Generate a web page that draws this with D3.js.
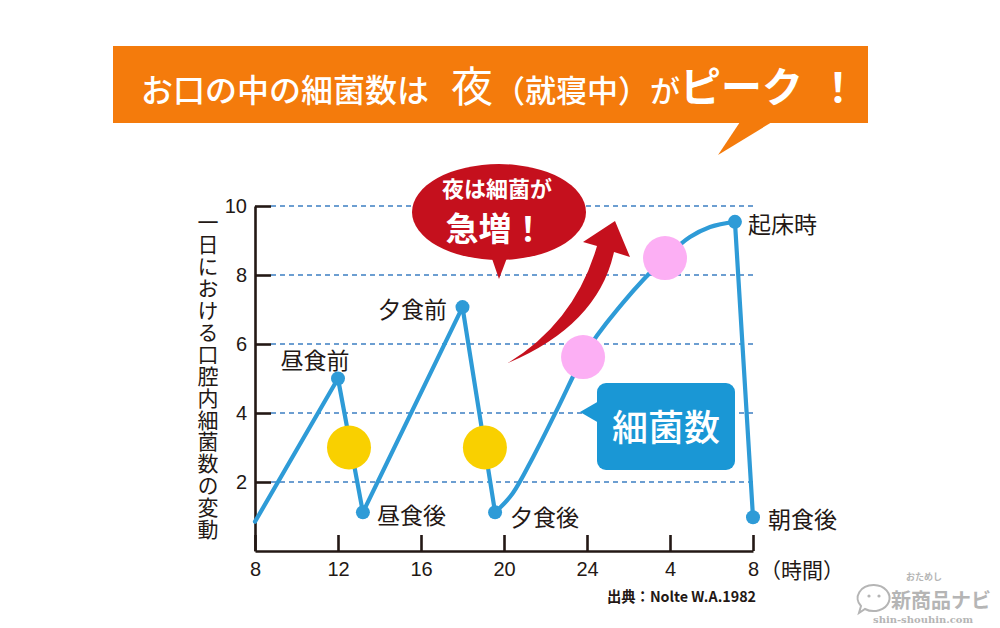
<!DOCTYPE html>
<html><head><meta charset="utf-8">
<script src="https://cdn.jsdelivr.net/npm/d3@7"></script>
<style>
html,body{margin:0;padding:0;background:#fff;}
svg{display:block;}
</style></head>
<body>
<script>
// ---- data ----
const yTicks = [2, 4, 6, 8, 10];
const xTicks = [8, 12, 16, 20, 24, 28, 32];
const xTickLabels = ["8", "12", "16", "20", "24", "4", "8"];

const dayHours = [8, 12, 13.2, 18, 19.57];
const dayValues = [0.85, 5.0, 1.12, 7.07, 1.12];
const nightHours = [19.57, 20.43, 21.4, 22.55, 23.81, 25.73, 27.76, 28.96, 29.93, 31.13];
const nightValues = [1.12, 1.68, 2.72, 4.09, 5.62, 7.19, 8.49, 9.10, 9.39, 9.54];
const morningHours = [31.13, 32];
const morningValues = [9.54, 0.98];

const dotHours = [12, 13.2, 18, 19.57, 31.13, 32];
const dotValues = [5.0, 1.12, 7.07, 1.12, 9.54, 0.98];
const dotLabels = ["昼食前", "昼食後", "夕食前", "夕食後", "起床時", "朝食後"];

const mealHours = [12.53, 19.08];
const mealValues = [3.0, 3.0];
const sleepHours = [23.81, 27.76];
const sleepValues = [5.62, 8.49];

const titleParts = ["お口の中の細菌数は", "夜", "（就寝中）", "が", "ピーク", "！"];
const yTitle = "一日における口腔内細菌数の変動";
const unitLabel = "（時間）";
const sourceText = "出典：Nolte W.A.1982";
const bubbleLines = ["夜は細菌が", "急増！"];
const boxLabel = "細菌数";

// ---- setup ----
const W = 1000, H = 628;
const JP = "'Noto Sans CJK JP','Noto Sans',sans-serif";
const LAT = "'Liberation Sans',Arial,sans-serif";
const ink = "#231815";
const blue = "#2e9bd7";

const svg = d3.select("body").append("svg").attr("width", W).attr("height", H);
svg.append("rect").attr("width", W).attr("height", H).attr("fill", "#fff");

const x = d3.scaleLinear().domain([8, 32]).range([255, 753]);
const y = d3.scaleLinear().domain([0, 10]).range([551, 206]);

// ---- banner ----
const orange = "#f47b0c";
svg.append("rect").attr("x", 113).attr("y", 46).attr("width", 755).attr("height", 77).attr("fill", orange);
svg.append("path").attr("d", "M740,122 L772,122 L718,155 Z").attr("fill", orange);

const tStyle = [
  {x: 141, size: 32, w: 500},
  {x: 451, size: 42, w: 400},
  {x: 494, size: 31, w: 500},
  {x: 650, size: 30, w: 500},
  {x: 680, size: 41, w: 700},
  {x: 818, size: 40, w: 700}
];
const title = svg.append("g").attr("fill", "#fff").attr("font-family", JP);
titleParts.forEach((t, i) => {
  title.append("text").attr("x", tStyle[i].x).attr("y", 102).attr("font-size", tStyle[i].size)
    .attr("font-weight", tStyle[i].w).text(t);
});

// ---- grid ----
svg.append("g").selectAll("line").data(yTicks).join("line")
  .attr("x1", x(8) + 16).attr("x2", x(32))
  .attr("y1", d => y(d)).attr("y2", d => y(d))
  .attr("stroke", "#3d7fc2").attr("stroke-width", 1.4).attr("stroke-dasharray", "5,4");

// ---- axes ----
const gy = svg.append("g").attr("transform", `translate(${x(8)},0)`)
  .call(d3.axisLeft(y).tickValues(yTicks).tickSizeInner(-16).tickSizeOuter(0).tickPadding(8));
const gx = svg.append("g").attr("transform", `translate(0,${y(0)})`)
  .call(d3.axisBottom(x).tickValues(xTicks).tickFormat((d, i) => xTickLabels[i])
    .tickSizeInner(-16).tickSizeOuter(0).tickPadding(11));
[gy, gx].forEach(g => {
  g.select(".domain").attr("stroke", ink).attr("stroke-width", 2.6);
  g.selectAll(".tick line").attr("stroke", ink).attr("stroke-width", 2.6);
  g.selectAll(".tick text").attr("fill", ink).attr("font-size", 20).attr("font-family", LAT);
});

svg.append("text").attr("x", 760).attr("y", 578).attr("font-family", JP).attr("font-size", 21)
  .attr("fill", ink).text(unitLabel);

svg.append("text").attr("x", 208).attr("y", 212).attr("font-family", JP).attr("font-size", 21)
  .attr("fill", ink).attr("letter-spacing", 0.9)
  .style("writing-mode", "vertical-rl").text(yTitle);

svg.append("text").attr("x", 607).attr("y", 602).attr("font-family", JP).attr("font-size", 14.3)
  .attr("font-weight", 700).attr("fill", ink).text(sourceText);

// ---- annotations: red bubble + arrow ----
const red = "#c5101d";
svg.append("ellipse").attr("cx", 499).attr("cy", 212).attr("rx", 87).attr("ry", 48).attr("fill", red);
svg.append("path").attr("d", "M489,250 L510,250 L499,279 Z").attr("fill", red);
const bt = svg.append("text").attr("text-anchor", "middle").attr("font-family", JP)
  .attr("font-weight", 700).attr("fill", "#fff");
bt.append("tspan").attr("x", 497).attr("y", 197).attr("font-size", 22).text(bubbleLines[0]);
bt.append("tspan").attr("x", 495).attr("y", 241).attr("font-size", 33).text(bubbleLines[1]);

svg.append("path")
  .attr("d", "M508,363 Q575,322 597,246 L583,242 L615,221 L630,257 L614,252 Q598,325 508,363 Z")
  .attr("fill", red);

// ---- blue label box ----
const boxBlue = "#1a97d5";
svg.append("rect").attr("x", 597).attr("y", 383).attr("width", 138).attr("height", 87).attr("rx", 9)
  .attr("fill", boxBlue);
svg.append("path").attr("d", "M599,401 L580,412 L599,423 Z").attr("fill", boxBlue);
svg.append("text").attr("x", 666).attr("y", 441).attr("text-anchor", "middle").attr("font-family", JP)
  .attr("font-size", 36).attr("font-weight", 500).attr("fill", "#fff").text(boxLabel);

// ---- series ----
const line = d3.line().x(d => x(d[0])).y(d => y(d[1]));
const curve = d3.line().x(d => x(d[0])).y(d => y(d[1])).curve(d3.curveMonotoneX);
const series = svg.append("g").attr("fill", "none").attr("stroke", blue).attr("stroke-width", 4.2)
  .attr("stroke-linejoin", "round").attr("stroke-linecap", "round");
series.append("path").attr("d", line(d3.zip(dayHours, dayValues)));
series.append("path").attr("d", curve(d3.zip(nightHours, nightValues)));
series.append("path").attr("d", line(d3.zip(morningHours, morningValues)));

svg.append("g").selectAll("circle").data(d3.zip(mealHours, mealValues)).join("circle")
  .attr("cx", d => x(d[0])).attr("cy", d => y(d[1])).attr("r", 22).attr("fill", "#f9d000");
svg.append("g").selectAll("circle").data(d3.zip(sleepHours, sleepValues)).join("circle")
  .attr("cx", d => x(d[0])).attr("cy", d => y(d[1])).attr("r", 22).attr("fill", "#fcaff4");

svg.append("g").selectAll("circle").data(d3.zip(dotHours, dotValues)).join("circle")
  .attr("cx", d => x(d[0])).attr("cy", d => y(d[1])).attr("r", 7).attr("fill", blue);

// point labels (offsets relative to each point)
const labelOffsets = [
  {dx: -23, dy: -20, anchor: "middle"},
  {dx: 14, dy: 2, anchor: "start"},
  {dx: -50, dy: 1, anchor: "middle"},
  {dx: 15, dy: 4, anchor: "start"},
  {dx: 13, dy: 1, anchor: "start"},
  {dx: 15, dy: 1, anchor: "start"}
];
svg.append("g").selectAll("text").data(dotLabels).join("text")
  .attr("x", (d, i) => x(dotHours[i]) + labelOffsets[i].dx)
  .attr("y", (d, i) => y(dotValues[i]) + labelOffsets[i].dy)
  .attr("text-anchor", (d, i) => labelOffsets[i].anchor)
  .attr("dominant-baseline", "central")
  .attr("font-family", JP).attr("font-size", 23).attr("fill", ink).text(d => d);

// ---- watermark ----
const wm = svg.append("g").attr("fill", "#b5b5b5");
wm.append("path").attr("d", "M874,585 a16,13 0 1,1 -9,24 l-6,4 l2,-7 a16,13 0 0,1 13,-21 Z")
  .attr("fill", "none").attr("stroke", "#b5b5b5").attr("stroke-width", 2);
wm.append("circle").attr("cx", 869).attr("cy", 596).attr("r", 1.6);
wm.append("circle").attr("cx", 879).attr("cy", 596).attr("r", 1.6);
wm.append("text").attr("x", 906).attr("y", 580).attr("font-family", JP).attr("font-size", 9)
  .attr("font-weight", 700).text("おためし");
wm.append("text").attr("x", 891).attr("y", 608).attr("font-family", JP).attr("font-size", 20)
  .attr("font-weight", 700).text("新商品ナビ");
wm.append("text").attr("x", 873).attr("y", 623).attr("font-family", "'DejaVu Serif',serif").attr("font-size", 10)
  .attr("font-weight", 700).text("shin-shouhin.com");
</script>
</body></html>
